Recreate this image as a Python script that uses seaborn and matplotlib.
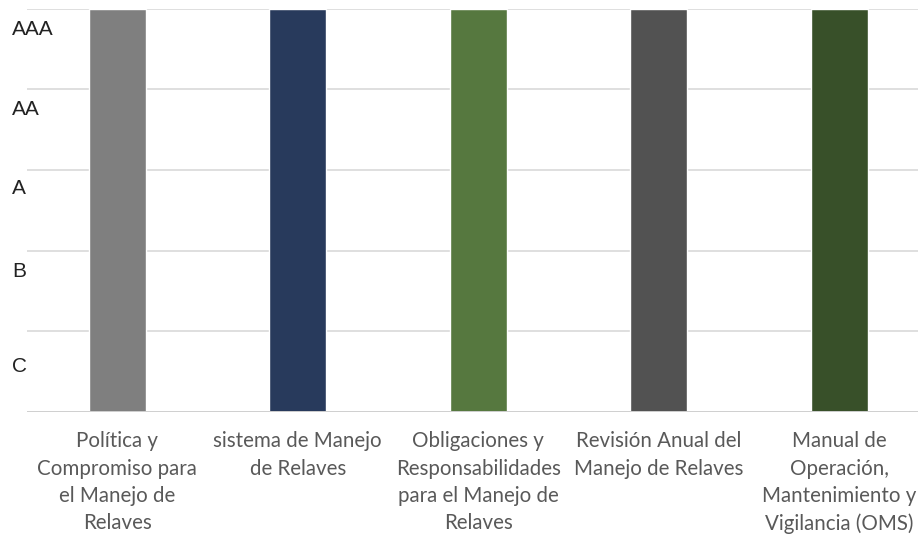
import matplotlib
matplotlib.use("Agg")
import matplotlib.pyplot as plt
import seaborn as sns
import pandas as pd

# chart data
categories = [
    "Política y\nCompromiso para\nel Manejo de\nRelaves",
    "sistema de Manejo\nde Relaves",
    "Obligaciones y\nResponsabilidades\npara el Manejo de\nRelaves",
    "Revisión Anual del\nManejo de Relaves",
    "Manual de\nOperación,\nMantenimiento y\nVigilancia (OMS)",
]
scores = [5, 5, 5, 5, 5]
bar_colors = ["#7f7f7f", "#203864", "#548235", "#525252", "#375623"]

grade_labels = ["C", "B", "A", "AA", "AAA"]
grade_pos = [0.59, 1.76, 2.79, 3.77, 4.76]
grid_levels = [0, 1, 2, 3, 4, 5]

df = pd.DataFrame({"categoria": categories, "puntaje": scores})

sns.set_theme(style="white")
plt.rcParams["font.family"] = ["Lato", "DejaVu Sans"]

fig = plt.figure(figsize=(9.18, 5.41), dpi=100)
ax = fig.add_axes([27 / 918, (541 - 412) / 541, (918 - 27) / 918, (412 - 8.5) / 541])

sns.barplot(data=df, x="categoria", y="puntaje", hue="categoria",
            palette=bar_colors, width=0.316, legend=False, ax=ax, zorder=3)

ax.set_xlim(-0.5, (918 - 27) / 180.5 - 0.5)
ax.set_ylim(0, 5)
ax.set_xlabel("")
ax.set_ylabel("")

for s in ax.spines.values():
    s.set_visible(False)

# gridlines at integer levels
ax.set_yticks(grid_levels, labels=[""] * len(grid_levels))
ax.yaxis.grid(True, color="#d9d9d9", linewidth=1.2, zorder=0)
ax.axhline(0, color="#d0d0d0", linewidth=1.4, zorder=4)
ax.tick_params(axis="y", which="major", length=0)

# grade labels between gridlines
ax.set_yticks(grade_pos, labels=grade_labels, minor=True)
ax.tick_params(axis="y", which="minor", length=0, pad=10.8, labelsize=15,
               labelcolor="#222222")
for t in ax.get_yticklabels(minor=True):
    t.set_fontfamily(["Liberation Sans", "DejaVu Sans"])
    t.set_horizontalalignment("left")

ax.tick_params(axis="x", length=0, pad=14, labelsize=14.8, labelcolor="#595959")
for t in ax.get_xticklabels():
    t.set_linespacing(1.45)

fig.savefig("out.png", dpi=100)
